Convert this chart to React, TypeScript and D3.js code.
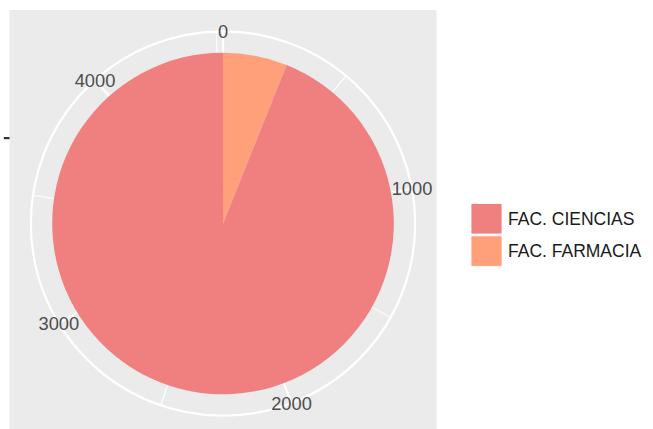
import * as d3 from "d3";

const categories = ["FAC. CIENCIAS", "FAC. FARMACIA"];
const counts = [4250, 275];
const colors = ["#F08080", "#FFA07A"];
const majorBreaks = [0, 1000, 2000, 3000, 4000];
const minorBreaks = [500, 1500, 2500, 3500, 4500];

const W = 653;
const H = 429;
// square panel (ggplot coord_polar)
const panel = { x: 9.5, y: 10, size: 427 };

export default function App() {
  const cx = panel.x + panel.size / 2;
  const cy = panel.y + panel.size / 2;
  const rOuter = 0.45 * panel.size;
  const rPie = 0.4 * panel.size;

  const total = d3.sum(counts);
  const theta = d3.scaleLinear().domain([0, total]).range([0, 2 * Math.PI]);

  // ggplot stacks the last level at the bottom (starting from 0)
  const order = d3.range(categories.length).reverse();
  let acc = 0;
  const slices = order.map((i) => {
    const s = { i, start: acc, end: acc + counts[i] };
    acc += counts[i];
    return s;
  });

  const arc = d3.arc<any>().innerRadius(0).outerRadius(rPie);

  // r axis: single discrete level at middle of [0, rPie]
  const r = d3.scaleLinear().domain([0.5, 1.5]).range([0, rPie]);
  const rTickY = cy - r(1);

  const pt = (v: number, rad: number) => [
    cx + rad * Math.sin(theta(v)),
    cy - rad * Math.cos(theta(v)),
  ];

  const fontFam = "'Liberation Sans', Arial, sans-serif";

  return (
    <svg
      width={W}
      height={H}
      style={{ position: "absolute", left: 0, top: 0, background: "#fff" }}
    >
      <rect
        x={panel.x}
        y={panel.y}
        width={panel.size}
        height={panel.size}
        fill="#EBEBEB"
      />
      {minorBreaks.map((b) => {
        const [x2, y2] = pt(b, rOuter);
        return (
          <line key={"mi" + b} x1={cx} y1={cy} x2={x2} y2={y2} stroke="#fff" strokeWidth={1.1} />
        );
      })}
      {majorBreaks.map((b) => {
        const [x2, y2] = pt(b, rOuter);
        return (
          <line key={"ma" + b} x1={cx} y1={cy} x2={x2} y2={y2} stroke="#fff" strokeWidth={2.2} />
        );
      })}
      <circle cx={cx} cy={cy} r={r(1)} fill="none" stroke="#fff" strokeWidth={2.2} />
      <circle cx={cx} cy={cy} r={rOuter} fill="none" stroke="#fff" strokeWidth={2.2} />
      <g transform={`translate(${cx},${cy})`}>
        {slices.map((s) => (
          <path
            key={s.i}
            d={arc({ startAngle: theta(s.start), endAngle: theta(s.end) }) as string}
            fill={colors[s.i]}
          />
        ))}
      </g>
      {majorBreaks.map((b) => {
        const [x, y] = pt(b, rOuter);
        return (
          <text
            key={"l" + b}
            x={x}
            y={y}
            dy="0.36em"
            textAnchor="middle"
            fontFamily={fontFam}
            fontSize={18.3}
            fill="#4D4D4D"
          >
            {b}
          </text>
        );
      })}
      <line x1={panel.x - 5.7} x2={panel.x} y1={rTickY} y2={rTickY} stroke="#333" strokeWidth={2.2} />
      {categories.map((c, i) => (
        <g key={c} transform={`translate(471,${203.5 + i * 32.3})`}>
          <rect x={0} y={0} width={31} height={30.5} fill={colors[i]} stroke="#fff" strokeWidth={0.8} />
          <text
            x={37}
            y={15.25}
            dy="0.36em"
            fontFamily={fontFam}
            fontSize={17.5}
            fill="#1A1A1A"
          >
            {c}
          </text>
        </g>
      ))}
    </svg>
  );
}
